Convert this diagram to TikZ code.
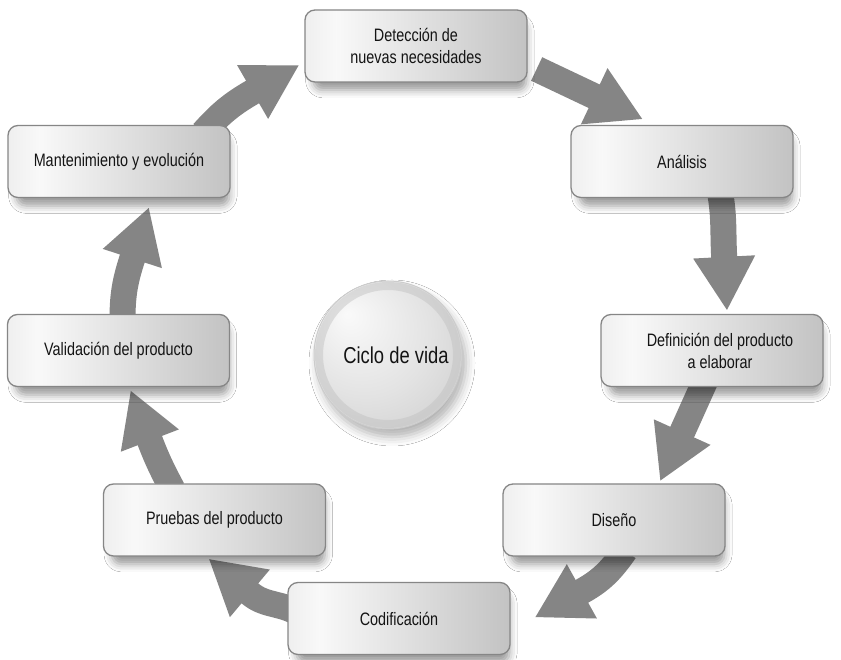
\documentclass[tikz,border=0pt]{standalone}
\usepackage{fontspec}
\setmainfont{Liberation Sans}[FakeStretch=0.8]
\usetikzlibrary{arrows.meta,shadows.blur}
\pgfdeclarelayer{bg}
\pgfsetlayers{bg,main}
\pgfdeclarehorizontalshading{boxsh}{100bp}{color(0bp)=(gray!40); color(32bp)=(gray!5); color(100bp)=(gray!72)}
\pgfdeclareradialshading{sph}{\pgfpoint{-14bp}{14bp}}{color(0bp)=(gray!4); color(22bp)=(gray!22); color(44bp)=(gray!44); color(50bp)=(gray!50)}
\begin{document}
\begin{tikzpicture}[x=1pt,y=1pt,
  box/.style={rectangle, rounded corners=10pt, minimum width=222pt, minimum height=72pt,
    draw=gray!95, line width=1.3pt, shade, shading=boxsh, text=black!92,
    font=\fontsize{18}{22}\selectfont, align=center,
    blur shadow={shadow xshift=4pt, shadow yshift=-10pt, shadow scale=0.96, shadow blur radius=8pt, shadow opacity=40}},
  bigarrow/.style={line width=26pt, draw=black!48, -{Triangle[length=54pt,width=58pt]}}]
\useasboundingbox (0,0) rectangle (841,659);
\node[box] (det) at (416,613) {Detección de\\nuevas necesidades};
\node[box] (ana) at (682,497.5) {Análisis};
\node[box] (def) at (712,308.5) {\hspace*{16pt}Definición del producto\\\hspace*{16pt}a elaborar};
\node[box] (dis) at (614,139) {Diseño};
\node[box] (cod) at (399,40.5) {Codificación};
\node[box] (pru) at (214.5,139) {Pruebas del producto};
\node[box] (val) at (118.5,308.5) {Validación del producto};
\node[box] (man) at (119,497.5) {Mantenimiento y evolución};
\node[circle, minimum size=148pt, inner sep=0pt, draw=gray!40, line width=1pt, shade, shading=sph,
  font=\fontsize{23}{26}\selectfont, text=black!92,
  blur shadow={shadow xshift=4pt, shadow yshift=-8pt, shadow blur radius=9pt, shadow opacity=30},
  path picture={\draw[gray!50, line width=8pt, opacity=0.45] (path picture bounding box.center) circle (69pt);}]
  (cv) at (388,304) {\hspace*{16pt}Ciclo de vida};
% arrow tips
\coordinate (tA) at ([xshift=-5pt,yshift=-19pt]det.west);
\coordinate (tB) at ([xshift=-39pt,yshift=5.5pt]ana.north);
\coordinate (tC) at ([xshift=15pt,yshift=3pt]def.north);
\coordinate (tD) at ([xshift=46pt,yshift=2pt]dis.north);
\coordinate (tE) at ([xshift=24pt,yshift=1pt]cod.east);
\coordinate (tF) at ([xshift=-6pt,yshift=-2pt]pru.south);
\coordinate (tG) at ([xshift=12pt,yshift=-3pt]val.south);
\coordinate (tH) at ([xshift=30pt,yshift=-9pt]man.south);
\begin{pgfonlayer}{bg}
\fill[white] (0,0) rectangle (841,659);
\draw[bigarrow] ([xshift=84pt,yshift=-8pt]man.north) to[out=48,in=-150] ([shift={(-150:54pt)}]tA) -- (tA);
\draw[bigarrow] ([xshift=9pt,yshift=-23pt]det.east) -- (tB);
\draw[bigarrow] ([xshift=38pt,yshift=6pt]ana.south) to[out=-80,in=93] ([shift={(93:54pt)}]tC) -- (tC);
\draw[bigarrow] ([xshift=-6pt,yshift=8pt]def.south) -- (tD);
\draw[bigarrow] ([xshift=11pt,yshift=6pt]dis.south) to[out=-125,in=29] ([shift={(29:54pt)}]tE) -- (tE);
\draw[bigarrow] ([xshift=6pt,yshift=8pt]cod.west) to[out=155,in=-40] ([shift={(-40:54pt)}]tF) -- (tF);
\draw[bigarrow] ([xshift=-42pt,yshift=-6pt]pru.north) to[out=118,in=-69] ([shift={(-69:54pt)}]tG) -- (tG);
\draw[bigarrow] ([xshift=4pt,yshift=-6pt]val.north) to[out=90,in=-108] ([shift={(-108:54pt)}]tH) -- (tH);
\end{pgfonlayer}
\end{tikzpicture}
\end{document}
